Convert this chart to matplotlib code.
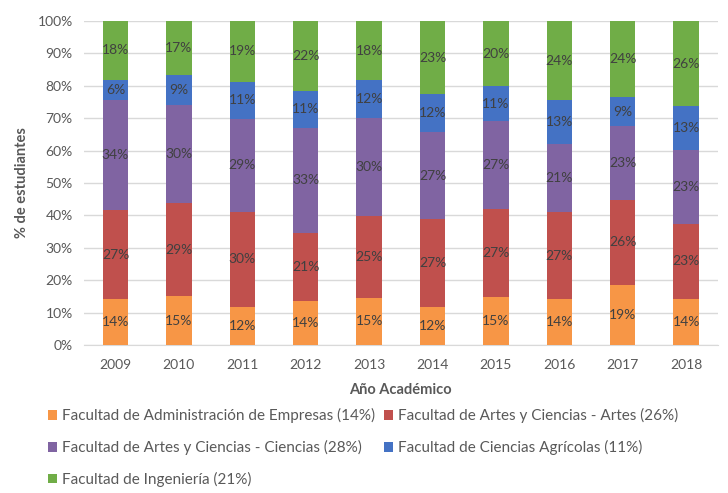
import matplotlib.pyplot as plt
import numpy as np

plt.rcParams['font.family'] = ['Lato', 'DejaVu Sans']

years = ['2009', '2010', '2011', '2012', '2013', '2014', '2015', '2016', '2017', '2018']

# share of students per faculty (%)
admin = [14.2, 15.0, 11.6, 13.5, 14.6, 11.6, 14.7, 14.2, 18.6, 14.2]
artes = [27.4, 28.7, 29.6, 21.0, 25.3, 27.3, 27.2, 26.8, 26.2, 23.2]
ciencias = [34.1, 30.4, 28.6, 32.6, 30.1, 26.8, 27.3, 21.1, 22.8, 22.9]
agricolas = [6.1, 9.1, 11.4, 11.2, 11.7, 11.7, 10.6, 13.4, 8.8, 13.4]
ingenieria = [18.2, 16.8, 18.8, 21.7, 18.3, 22.6, 20.2, 24.5, 23.6, 26.3]

series_names = [
    'Facultad de Administración de Empresas (14%)',
    'Facultad de Artes y Ciencias - Artes (26%)',
    'Facultad de Artes y Ciencias - Ciencias (28%)',
    'Facultad de Ciencias Agrícolas (11%)',
    'Facultad de Ingeniería (21%)',
]
colors = ['#F79646', '#C0504D', '#8064A2', '#4472C4', '#70AD47']

fig = plt.figure(figsize=(7.28, 4.93), dpi=100)
ax = fig.add_axes([83.8 / 728, 148 / 493, 634 / 728, 324 / 493])

x = np.arange(len(years))
bottom = np.zeros(len(years))
containers = []
for vals, name, col in zip([admin, artes, ciencias, agricolas, ingenieria], series_names, colors):
    vals = np.array(vals)
    bars = ax.bar(x, vals, width=0.4, bottom=bottom, color=col, label=name, zorder=3)
    ax.bar_label(bars, labels=[f"{v:.0f}%" for v in vals], label_type='center',
                 fontsize=10, color='#404040')
    containers.append(bars)
    bottom += vals

ax.set_xlim(-0.5, len(years) - 0.5)
ax.set_ylim(0, 100)
ax.set_yticks(np.arange(0, 101, 10))
ax.set_yticklabels([f"{t}%" for t in range(0, 101, 10)])
ax.set_xticks(x)
ax.set_xticklabels(years)
ax.tick_params(length=0, colors='#595959', labelsize=10)
ax.tick_params(axis='x', pad=10)
ax.tick_params(axis='y', pad=8)
ax.grid(axis='y', color='#D9D9D9', linewidth=1, zorder=0)
for s in ['top', 'right', 'left']:
    ax.spines[s].set_visible(False)
ax.spines['bottom'].set_color('#D9D9D9')

ax.set_ylabel('% de estudiantes', fontsize=10.5, fontweight='bold', color='#595959', labelpad=6)
ax.set_xlabel('Año Académico', fontsize=10.5, fontweight='bold', color='#595959', labelpad=9)

# column order so rows read left to right like the original
order = [0, 2, 4, 1, 3]
handles = [containers[i].patches[0] for i in order]
labels = [series_names[i] for i in order]
fig.legend(handles, labels, loc='upper left', bbox_to_anchor=(42 / 728, 1 - 402 / 493),
           ncol=2, frameon=False, fontsize=11, labelcolor='#595959',
           handlelength=0.6, handleheight=0.6, handletextpad=0.3,
           labelspacing=1.1, columnspacing=0.6, borderaxespad=0)

fig.savefig('out.png', dpi=100)
